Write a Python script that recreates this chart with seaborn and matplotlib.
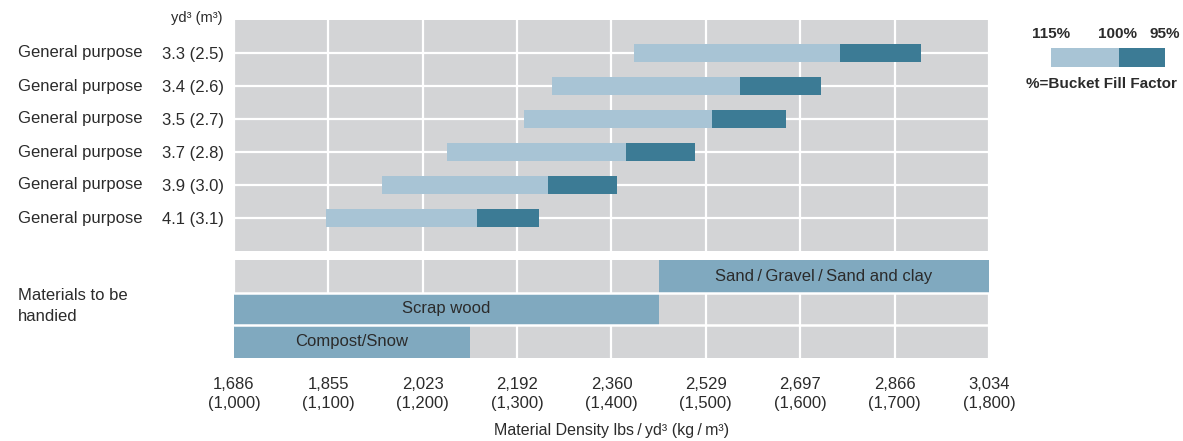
import matplotlib
matplotlib.use("Agg")
import matplotlib.pyplot as plt
import seaborn as sns
import numpy as np

# ---------------- data ----------------
bucket_names = ["General purpose"] * 6
bucket_sizes = ["3.3 (2.5)", "3.4 (2.6)", "3.5 (2.7)", "3.7 (2.8)", "3.9 (3.0)", "4.1 (3.1)"]
density_115 = [1424, 1337, 1307, 1226, 1157, 1098]   # kg/m3 at 115% fill
density_100 = [1642, 1536, 1507, 1415, 1333, 1258]   # kg/m3 at 100% fill
density_95 = [1728, 1622, 1585, 1488, 1406, 1323]    # kg/m3 at 95% fill

materials = ["Sand\u2009/\u2009Gravel\u2009/\u2009Sand and clay", "Scrap wood", "Compost/Snow"]
material_start = [1450, 1000, 1000]
material_end = [1800, 1450, 1250]

tick_kg = [1000, 1100, 1200, 1300, 1400, 1500, 1600, 1700, 1800]
tick_lbs = ["1,686", "1,855", "2,023", "2,192", "2,360", "2,529", "2,697", "2,866", "3,034"]
tick_kg_labels = ["(1,000)", "(1,100)", "(1,200)", "(1,300)", "(1,400)", "(1,500)", "(1,600)", "(1,700)", "(1,800)"]
legend_labels = ["115%", "100%", "95%"]

# ---------------- style ----------------
sns.set_theme(style="white")
plt.rcParams["font.family"] = ["Liberation Sans", "DejaVu Sans"]
TXT = "#2b2b2b"
BG = "#d3d4d6"
LIGHT = "#a8c4d5"
DARK = "#3c7b95"
MAT = "#80a9bf"
FS = 12

fig = plt.figure(figsize=(11.83, 4.41), dpi=100)
W, H = 1183, 441

def axrect(x0, y0, x1, y1):
    return [x0 / W, 1 - y1 / H, (x1 - x0) / W, (y1 - y0) / H]

ax = fig.add_axes(axrect(234, 20, 989, 251))
axb = fig.add_axes(axrect(234, 260, 989, 358))

# ---------------- top panel ----------------
rows = np.arange(len(bucket_sizes))
ax.set_facecolor(BG)
ax.barh(rows, np.array(density_100) - np.array(density_115), left=density_115,
        height=0.54, color=LIGHT, linewidth=0, zorder=3)
ax.barh(rows, np.array(density_95) - np.array(density_100), left=density_100,
        height=0.54, color=DARK, linewidth=0, zorder=3)
ax.set_xlim(1000, 1800)
ax.set_ylim(6, -1)
ax.set_xticks(tick_kg)
ax.set_yticks(rows)
ax.set_yticklabels(bucket_sizes, fontsize=FS, color=TXT)
ax.tick_params(axis="x", length=0, labelbottom=False)
ax.tick_params(axis="y", length=0, pad=7)
ax.grid(True, color="white", linewidth=1.6, zorder=0)
ax.set_axisbelow(True)
for s in ax.spines.values():
    s.set_visible(False)
ytr = ax.get_yaxis_transform()
for r, name in zip(rows, bucket_names):
    ax.text(-0.286, r, name, transform=ytr, ha="left", va="center",
            fontsize=FS, color=TXT)
ax.text(-0.0146, 1.009, "yd³ (m³)", transform=ax.transAxes, ha="right",
        va="center", fontsize=10.5, color=TXT)

# ---------------- bottom panel ----------------
mrows = np.arange(len(materials))
axb.set_facecolor(BG)
axb.barh(mrows, np.array(material_end) - np.array(material_start), left=material_start,
         height=1.0, color=MAT, linewidth=0, zorder=3)
for r, lab, a, b in zip(mrows, materials, material_start, material_end):
    axb.text((a + b) / 2, r, lab, ha="center", va="center", fontsize=FS,
             color=TXT, zorder=5)
for yline in (mrows[:-1] + 0.5):
    axb.axhline(yline, color="white", linewidth=1.8, zorder=4)
axb.set_xlim(1000, 1800)
axb.set_ylim(len(materials) - 0.5, -0.5)
axb.set_xticks(tick_kg)
axb.set_xticklabels([f"{a}\n{b}" for a, b in zip(tick_lbs, tick_kg_labels)],
                    fontsize=FS, color=TXT, linespacing=1.27)
axb.set_yticks([])
axb.tick_params(axis="x", length=0, pad=14)
axb.grid(True, axis="x", color="white", linewidth=1.6, zorder=0)
axb.set_axisbelow(True)
for s in axb.spines.values():
    s.set_visible(False)
axb.set_xlabel("Material Density lbs\u2009/\u2009yd³ (kg\u2009/\u2009m³)", fontsize=11.5,
               color=TXT, labelpad=9)
fig.text(18 / W, 1 - 306 / H, "Materials to be\nhandied", ha="left", va="center",
         fontsize=FS, color=TXT, linespacing=1.45)

# ---------------- legend ----------------
axl = fig.add_axes(axrect(1051, 48, 1165, 67))
axl.barh([0], [0.6], left=[0], height=1.0, color=LIGHT, linewidth=0)
axl.barh([0], [0.4], left=[0.6], height=1.0, color=DARK, linewidth=0)
axl.set_xlim(0, 1)
axl.set_ylim(-0.5, 0.5)
axl.axis("off")
for xpos, lab in zip([0.0, 0.58, 1.0], legend_labels):
    axl.text(xpos, 1.22, lab, ha="center", va="center", fontsize=11,
             fontweight="bold", color=TXT, clip_on=False)
axl.text(0.44, -1.38, "%=Bucket Fill Factor", ha="center", va="center",
         fontsize=11, fontweight="bold", color=TXT, clip_on=False)

fig.savefig("out.png", dpi=100)
